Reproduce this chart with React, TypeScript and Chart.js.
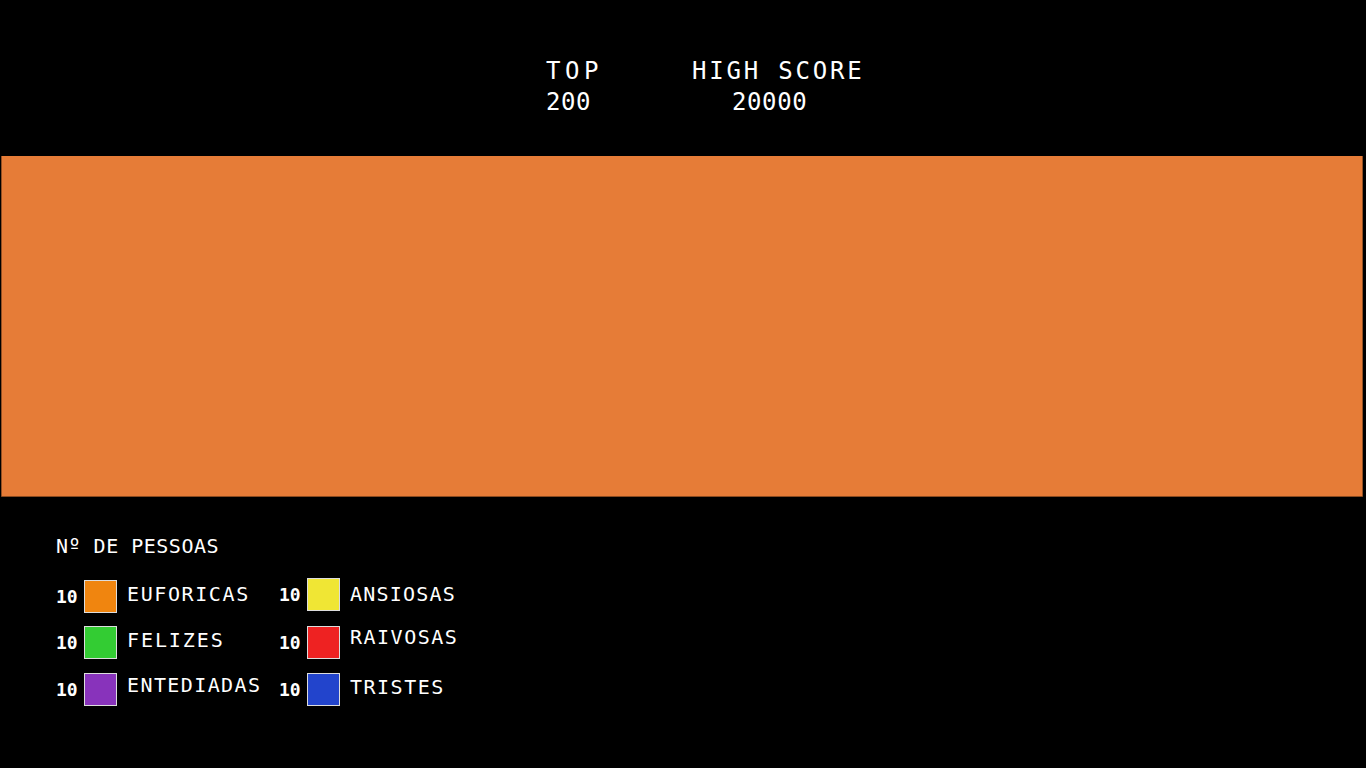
import React, { useEffect, useRef } from "react";
import { Chart, registerables } from "chart.js";

Chart.register(...registerables);

const headerLabels = ["TOP", "HIGH SCORE"];
const headerValues = ["200", "20000"];
const legendTitle = "Nº DE PESSOAS";
const moods = ["EUFORICAS", "FELIZES", "ENTEDIADAS", "ANSIOSAS", "RAIVOSAS", "TRISTES"];
const counts = [10, 10, 10, 10, 10, 10];
const moodColors = ["#F0850F", "#33CC33", "#8833BB", "#F0E634", "#EE2222", "#2244CC"];
const barCategories = ["PESSOAS"];
const barValues = [10];
const barMax = 10;

const FONT = '"DejaVu Sans Mono", monospace';

// layout positions for legend entries (col1 rows, col2 rows)
const itemPos = [
  { x: 56, y: 580, labelDy: 0 },
  { x: 56, y: 626, labelDy: 0 },
  { x: 56, y: 673, labelDy: -2 },
  { x: 279, y: 578, labelDy: 2 },
  { x: 279, y: 626, labelDy: -3 },
  { x: 279, y: 673, labelDy: 0 },
];
const labelSpacing = [1.6, 1.9, 1.4, 1.2, 1.5, 1.5];

export default function App() {
  const canvasRef = useRef<HTMLCanvasElement>(null);

  useEffect(() => {
    if (!canvasRef.current) return;
    const chart = new Chart(canvasRef.current, {
      type: "bar",
      data: {
        labels: barCategories,
        datasets: [
          {
            label: "PESSOAS",
            data: barValues,
            backgroundColor: "#E67C37",
            borderColor: "#6A3A18",
            borderWidth: 1,
            borderSkipped: "top",
            categoryPercentage: 1,
            barPercentage: 1,
          },
        ],
      },
      options: {
        animation: false,
        responsive: true,
        maintainAspectRatio: false,
        layout: { padding: 0 },
        plugins: { legend: { display: false }, tooltip: { enabled: false } },
        scales: {
          x: { display: false },
          y: { display: false, min: 0, max: barMax },
        },
      },
    });
    return () => chart.destroy();
  }, []);

  const text = (t: string, left: number, top: number, ls: number, size = 24, weight = "normal") => (
    <div
      style={{
        position: "absolute",
        left,
        top,
        color: "#fff",
        fontFamily: FONT,
        fontSize: size,
        fontWeight: weight as any,
        lineHeight: 1,
        letterSpacing: ls,
        whiteSpace: "nowrap",
      }}
    >
      {t}
    </div>
  );

  return (
    <div style={{ position: "fixed", left: 0, top: 0, width: 1366, height: 768, background: "#000", overflow: "hidden" }}>
      {text(headerLabels[0], 546, 59, 4.6)}
      {text(headerLabels[1], 692, 59, 2.8)}
      {text(headerValues[0], 546, 90, 0.6)}
      {text(headerValues[1], 732, 90, 0.6)}

      <div style={{ position: "absolute", left: 1, top: 156, width: 1362, height: 341 }}>
        <canvas ref={canvasRef} />
      </div>

      {text(legendTitle, 56, 536, 0.5, 20)}

      {moods.map((m, i) => {
        const p = itemPos[i];
        return (
          <React.Fragment key={m}>
            {text(String(counts[i]), p.x, p.y + 8, 0, 18, "bold")}
            <div
              style={{
                position: "absolute",
                left: p.x + 28,
                top: p.y,
                width: 31,
                height: 31,
                background: moodColors[i],
                border: "1px solid #ddd",
              }}
            />
            {text(m, p.x + 71, p.y + 4 + p.labelDy, labelSpacing[i], 20)}
          </React.Fragment>
        );
      })}
    </div>
  );
}
